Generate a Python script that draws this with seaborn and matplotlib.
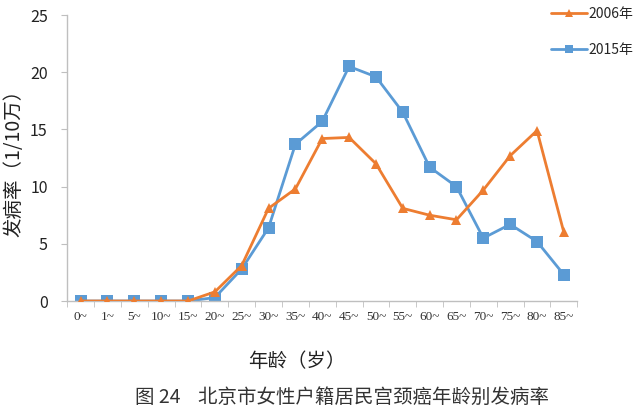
"""北京市女性户籍居民宫颈癌年龄别发病率 — line chart."""

import numpy as np
import pandas as pd
import matplotlib
matplotlib.use('Agg')
import matplotlib.pyplot as plt
import seaborn as sns


# ---------------------------------------------------------------------------
# Data
# ---------------------------------------------------------------------------

AGE_GROUPS = ['0~', '1~', '5~', '10~', '15~', '20~', '25~', '30~', '35~', '40~',
              '45~', '50~', '55~', '60~', '65~', '70~', '75~', '80~', '85~']
RATE_2006 = [0, 0, 0, 0, 0, 0.8, 3.1, 8.1, 9.8, 14.2,
             14.3, 12.0, 8.1, 7.5, 7.1, 9.7, 12.7, 14.9, 6.0]
RATE_2015 = [0, 0, 0, 0, 0, 0.3, 2.8, 6.4, 13.7, 15.7,
             20.5, 19.6, 16.5, 11.7, 10.0, 5.5, 6.7, 5.2, 2.3]
SERIES = ['2006年', '2015年']

COLORS = {'2006年': '#ED7D31', '2015年': '#5B9BD5'}
MARKERS = {'2006年': '^', '2015年': 's'}

CJK = ['Noto Sans CJK SC', 'DejaVu Sans']


def build_frame():
    rows = []
    for name, vals in zip(SERIES, [RATE_2006, RATE_2015]):
        for i, v in enumerate(vals):
            rows.append({'pos': i, 'age': AGE_GROUPS[i], 'rate': v, 'year': name})
    return pd.DataFrame(rows)


def main():
    sns.set_style('white')
    plt.rcParams['font.family'] = CJK

    df = build_frame()
    fig = plt.figure(figsize=(6.4, 4.11), dpi=100)
    ax = fig.add_axes([0.105, 0.2676, 0.797, 0.6959])

    # 2015 first, 2006 on top where they overlap
    for name in ['2015年', '2006年']:
        sub = df[df['year'] == name]
        sns.lineplot(data=sub, x='pos', y='rate', ax=ax, color=COLORS[name],
                     marker=MARKERS[name], markersize=8.5 if name == '2015年' else 7.5,
                     markeredgewidth=0, linewidth=2, label=name,
                     zorder=3 if name == '2006年' else 2)

    ax.set_xlim(-0.5, len(AGE_GROUPS) - 0.5)
    ax.set_ylim(0, 25)
    ax.set_yticks([0, 5, 10, 15, 20, 25])

    # category labels at centres, tick marks at the boundaries (Excel style)
    ax.set_xticks(np.arange(len(AGE_GROUPS)))
    ax.set_xticklabels(AGE_GROUPS, family=['Liberation Serif', 'DejaVu Serif'],
                       fontsize=9.5, color='#333333')
    ax.set_xticks(np.arange(-0.5, len(AGE_GROUPS)), minor=True)
    ax.tick_params(axis='x', which='major', length=0, pad=7)
    ax.tick_params(axis='x', which='minor', length=4, color='#bfbfbf', direction='out')
    ax.tick_params(axis='y', length=4, color='#bfbfbf', direction='out',
                   labelsize=11.5, labelcolor='#222222', pad=10)
    ax.xaxis.set_tick_params(bottom=True, which='both')
    ax.yaxis.set_tick_params(left=True)

    for side in ['top', 'right']:
        ax.spines[side].set_visible(False)
    for side in ['left', 'bottom']:
        ax.spines[side].set_color('#bfbfbf')
        ax.spines[side].set_linewidth(1)

    ax.set_xlabel('年龄（岁）', fontsize=14, color='#222222')
    ax.xaxis.set_label_coords(0.45, -0.175)
    ax.set_ylabel('发病率（1/10万）', fontsize=14, color='#222222', labelpad=4)

    ax.get_legend().remove()
    handles, labels = ax.get_legend_handles_labels()
    order = [labels.index('2006年'), labels.index('2015年')]
    fig.legend([handles[i] for i in order], [labels[i] for i in order],
               loc='upper right', bbox_to_anchor=(1.0, 1.0), frameon=False,
               fontsize=10, labelspacing=1.6, handlelength=2.6,
               handletextpad=0.1, borderaxespad=0.1, markerscale=0.75)

    fig.text(0.535, 0.032, '图 24    北京市女性户籍居民宫颈癌年龄别发病率',
             ha='center', va='center', fontsize=14, color='#333333',
             family=CJK)

    fig.savefig('out.png', dpi=100)


if __name__ == '__main__':
    main()
